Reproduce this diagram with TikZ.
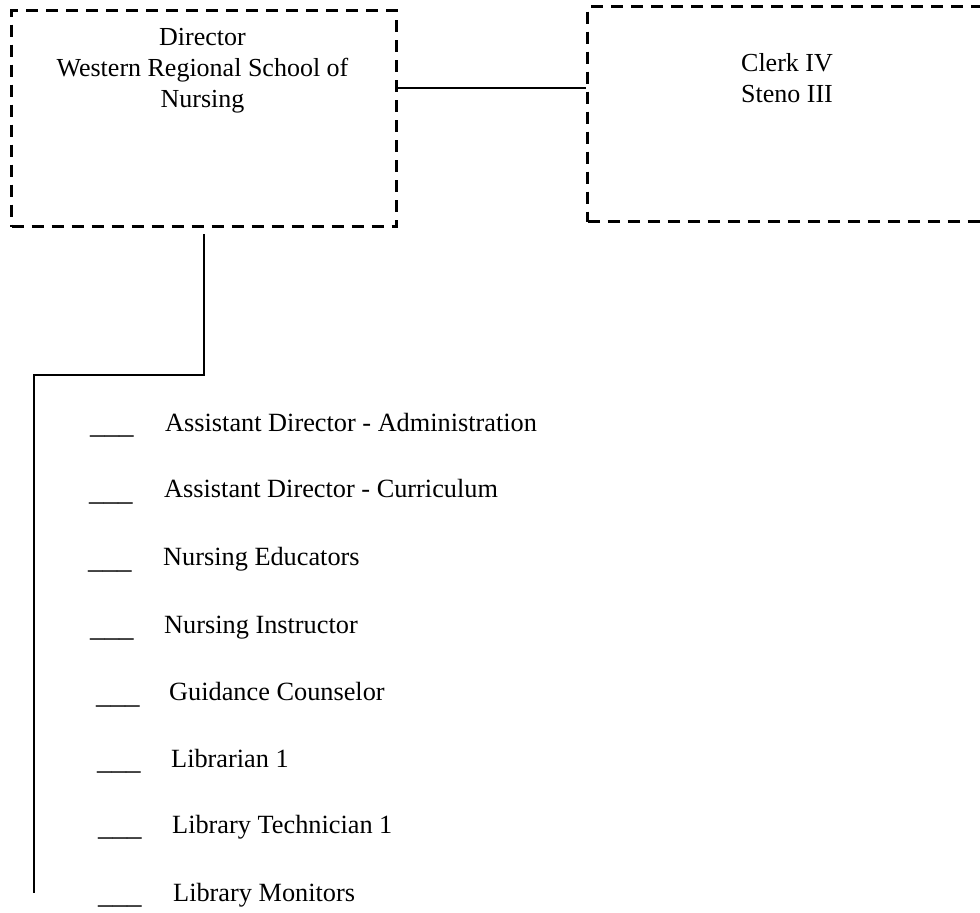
\documentclass[tikz,border=0pt]{standalone}
\usepackage{fontspec}
\setmainfont{Liberation Serif}
\begin{document}
\begin{tikzpicture}[x=1pt,y=-1pt,
  dbox/.style={draw=black, line width=3pt, dash pattern=on 12pt off 8pt, minimum width=#1, minimum height=216pt, anchor=north west, inner sep=0pt},
  conn/.style={draw=black, line width=2pt},
  boxtext/.style={font=\fontsize{26}{31}\selectfont, align=center, inner sep=0pt},
  item/.style={font=\fontsize{26.3}{31}\selectfont, anchor=base west, inner sep=0pt},
  blank/.style={font=\fontsize{29}{31}\selectfont, anchor=base west, inner sep=0pt}]
\useasboundingbox (0,0) rectangle (980,913);
\clip (0,0) rectangle (980,913);
\node[dbox=385pt] (dir) at (10,9) {};
\node[dbox=420pt, minimum height=215pt] (clerk) at (586,5) {};
\node[boxtext, anchor=base] (dirt) at (202.5,107) {Director\\Western Regional School of\\Nursing};
\node[boxtext, anchor=base] (clerkt) at (787,102) {Clerk IV\\Steno III};
\draw[conn] (dir.east |- 0,88) -- (clerk.west |- 0,88);
\coordinate (corner) at (34,375);
\coordinate (bottom) at (34,893);
\draw[conn] ([yshift=-6pt]dir.south) |- (corner) -- (bottom);
\node[item] (i1) at (165,431) {Assistant Director - Administration};
\node[item] (i2) at (164,497) {Assistant Director - Curriculum};
\node[item] (i3) at (163,565) {Nursing Educators};
\node[item] (i4) at (164,633) {Nursing Instructor};
\node[item] (i5) at (169,700) {Guidance Counselor};
\node[item] (i6) at (171,767) {Librarian 1};
\node[item] (i7) at (172,833) {Library Technician 1};
\node[item] (i8) at (173,901) {Library Monitors};
\node[blank] (u1) at (90,433) {\_\_\_};
\node[blank] (u2) at (89,500) {\_\_\_};
\node[blank] (u3) at (88,568) {\_\_\_};
\node[blank] (u4) at (90,636) {\_\_\_};
\node[blank] (u5) at (96,703) {\_\_\_};
\node[blank] (u6) at (97,769) {\_\_\_};
\node[blank] (u7) at (98,835) {\_\_\_};
\node[blank] (u8) at (98,903) {\_\_\_};
\end{tikzpicture}
\end{document}
